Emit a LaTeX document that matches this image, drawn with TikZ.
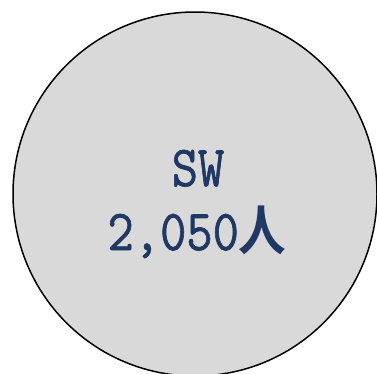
\documentclass[tikz,border=0pt]{standalone}
\usepackage{fontspec}
\newfontfamily\cjk{Noto Sans CJK JP}[BoldFont={* Bold}]
\newfontfamily\swmono{Latin Modern Mono}[FakeBold=1.2]
\usepackage{tikz}
\usetikzlibrary{positioning}
\definecolor{swnavy}{RGB}{31, 56, 100}
\definecolor{swgray}{RGB}{217, 217, 217}

\begin{document}
\begin{tikzpicture}[x=1pt, y=1pt,
    lbl/.style={text=swnavy, inner sep=0pt, anchor=base, xscale=0.88,
      font=\fontsize{58}{60}\selectfont\swmono}]

  % --- frame ---
  \useasboundingbox (0,0) rectangle (377,-373);
  \clip (0,0) rectangle (377,-373);

  % --- bubble ---
  \filldraw[fill=swgray, draw=black, line width=1.5pt] (195,-194) circle (182);

  % --- labels ---
  \node[lbl] (sw) at (198,-186) {SW};
  \node[lbl] (cnt) at (197,-250)
    {2,050{\cjk\bfseries\fontsize{54}{56}\selectfont 人}};

\end{tikzpicture}
\end{document}
